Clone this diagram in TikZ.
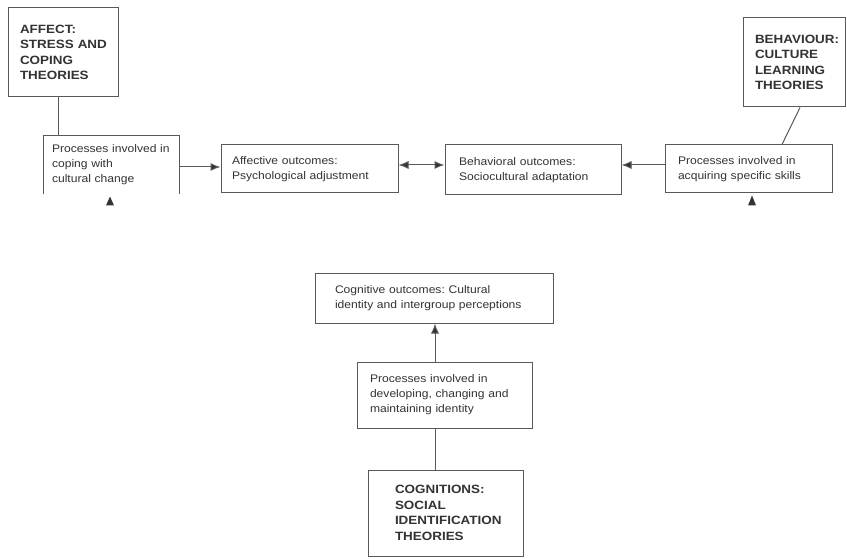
\documentclass[tikz,border=0pt]{standalone}
\usepackage{fontspec}
\usetikzlibrary{arrows.meta}
\newfontfamily\regfam[FakeStretch=1.1]{Liberation Sans}
\newfontfamily\thfam[FakeStretch=1.12]{Liberation Sans}
\newcommand\nohyph{\hyphenpenalty=10000\relax\exhyphenpenalty=10000\relax}
\definecolor{ink}{gray}{0.2}
\definecolor{rule}{gray}{0.35}
\begin{document}
\begin{tikzpicture}[x=1pt,y=-1pt,
  box/.style={draw=rule, line width=1pt, inner ysep=0pt, align=left, text=ink,
    font=\regfam\fontsize{11}{15}\selectfont\nohyph},
  theory/.style={box, font=\thfam\bfseries\fontsize{12}{15.5}\selectfont\nohyph},
  link/.style={draw=rule, line width=1pt},
  arr/.style={link, -{Latex[length=10pt,width=8pt,fill=ink]}},
  twoarr/.style={link, {Latex[length=10pt,width=8pt,fill=ink]}-{Latex[length=10pt,width=8pt,fill=ink]}},
  tip/.style={fill=ink}]
\fill[white] (0,0) rectangle (847,559);
\useasboundingbox (0,0) rectangle (847,559);

% theory boxes
\node[theory, inner xsep=12pt, text width=86pt, minimum height=89pt] (affect) at (63,52.5)
  {AFFECT:\\STRESS~AND\\COPING\\THEORIES};
\node[theory, inner xsep=12pt, text width=78pt, minimum height=89pt] (behav) at (794,62.5)
  {BEHAVIOUR:\\CULTURE\\LEARNING\\THEORIES};
\node[theory, inner xsep=27pt, text width=101pt, minimum height=86pt] (cogn) at (445.5,513)
  {COGNITIONS:\\SOCIAL\\IDENTIFICATION\\THEORIES};

% process and outcome boxes
\node[box, draw=none, inner xsep=8pt, text width=119pt, minimum height=58pt] (p1) at (111.5,165)
  {Processes~involved~in\\coping~with\\cultural~change};
\draw[link] (p1.south west) |- (p1.north east) -- (p1.south east);
\node[box, inner xsep=11pt, text width=155pt, minimum height=48pt] (aff) at (309.5,169)
  {Affective~outcomes:\\Psychological~adjustment};
\node[box, inner xsep=14pt, text width=148pt, minimum height=50pt] (beh) at (533,170)
  {Behavioral~outcomes:\\Sociocultural~adaptation};
\node[box, inner xsep=13pt, text width=141pt, minimum height=48pt] (p4) at (748.5,169)
  {Processes~involved~in\\acquiring~specific~skills};
\node[box, inner xsep=20pt, text width=198pt, minimum height=50pt] (cog) at (434,298)
  {Cognitive~outcomes:~Cultural\\identity~and~intergroup~perceptions};
\node[box, inner xsep=13pt, text width=149pt, minimum height=66pt] (pmid) at (444.5,395)
  {Processes~involved~in\\developing,~changing~and\\maintaining~identity};

% connectors
\draw[link] ([xshift=-5pt]affect.south) -- ([xshift=-5pt]affect.south |- p1.north);
\draw[arr] ([yshift=-2pt]p1.east) -- ([yshift=-2pt]p1.east -| aff.west);
\draw[twoarr] ([yshift=4pt]aff.east) -- ([yshift=4pt]aff.east -| beh.west);
\draw[arr] ([yshift=4pt]p4.west) -- ([yshift=4pt]p4.west -| beh.east);
\draw[link] ([xshift=6pt]behav.south) -- ([xshift=33.5pt]p4.north);
\draw[arr] ([xshift=-9.5pt]pmid.north) -- ([xshift=-9.5pt]pmid.north |- cog.south);
\draw[link] ([xshift=-10.5pt]cogn.north) -- ([xshift=-10.5pt]cogn.north |- pmid.south);

% small upward tips below the two process boxes
\fill[tip] ([xshift=-1.5pt,yshift=-2pt]p1.south) -- ([xshift=2.5pt,yshift=-11pt]p1.south)
  -- ([xshift=-5.5pt,yshift=-11pt]p1.south) -- cycle;
\fill[tip] ([xshift=3.5pt,yshift=-2pt]p4.south) -- ([xshift=7.5pt,yshift=-12pt]p4.south)
  -- ([xshift=-0.5pt,yshift=-12pt]p4.south) -- cycle;
\end{tikzpicture}
\end{document}
